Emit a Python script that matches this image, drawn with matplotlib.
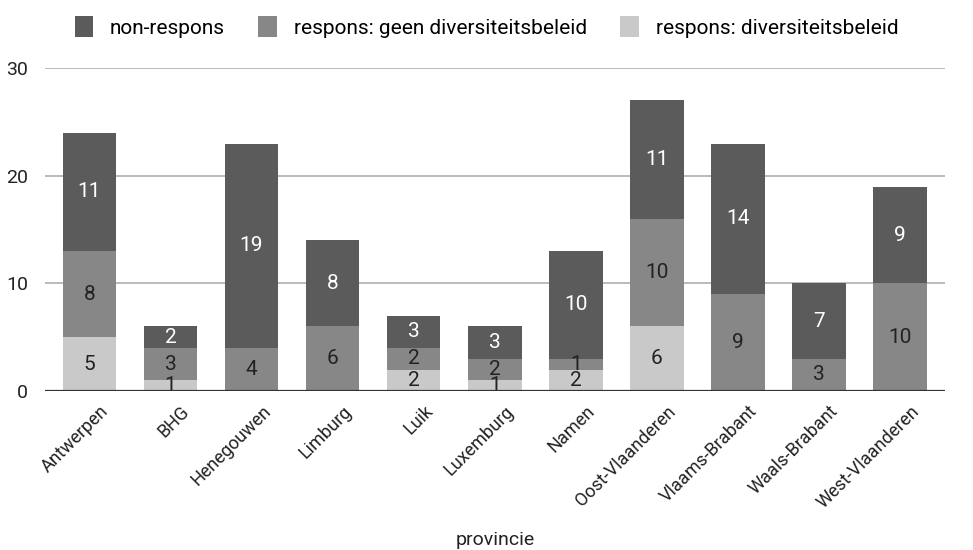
import matplotlib.pyplot as plt
import matplotlib.transforms as mtransforms
import numpy as np

plt.rcParams['font.family'] = ['Roboto', 'DejaVu Sans']

provincies = ['Antwerpen', 'BHG', 'Henegouwen', 'Limburg', 'Luik', 'Luxemburg',
              'Namen', 'Oost-Vlaanderen', 'Vlaams-Brabant', 'Waals-Brabant',
              'West-Vlaanderen']
diversiteitsbeleid = [5, 1, 0, 0, 2, 1, 2, 6, 0, 0, 0]
geen_beleid = [8, 3, 4, 6, 2, 2, 1, 10, 9, 3, 10]
non_respons = [11, 2, 19, 8, 3, 3, 10, 11, 14, 7, 9]

c_light = '#c9c9c9'
c_mid = '#878787'
c_dark = '#5b5b5b'

fig = plt.figure(figsize=(9.73, 5.5), dpi=100)
ax = fig.add_axes([0.046, 0.289, 0.925, 0.587])

x = np.arange(len(provincies))
w = 0.66
b1 = np.array(diversiteitsbeleid)
b2 = b1 + np.array(geen_beleid)

r1 = ax.bar(x, diversiteitsbeleid, w, color=c_light, label='respons: diversiteitsbeleid', zorder=2)
r2 = ax.bar(x, geen_beleid, w, bottom=b1, color=c_mid, label='respons: geen diversiteitsbeleid', zorder=2)
r3 = ax.bar(x, non_respons, w, bottom=b2, color=c_dark, label='non-respons', zorder=2)

# value labels in the middle of each segment
for rects, vals, tc in [(r1, diversiteitsbeleid, '#222222'),
                        (r2, geen_beleid, '#222222'),
                        (r3, non_respons, 'white')]:
    for rect, v in zip(rects, vals):
        if v == 0:
            continue
        ax.text(rect.get_x() + rect.get_width() / 2,
                rect.get_y() + rect.get_height() / 2, str(v),
                ha='center', va='center', color=tc, fontsize=15, zorder=3)

ax.set_ylim(0, 30)
ax.set_xlim(-0.55, len(provincies) - 0.45)
ax.set_yticks([0, 10, 20, 30])
ax.yaxis.grid(True, color='#a8a8a8', linewidth=1.1, zorder=0)
ax.axhline(0, color='#333333', linewidth=1.6, zorder=4)
for s in ax.spines.values():
    s.set_visible(False)
ax.tick_params(axis='both', length=0, colors='#222222')
ax.tick_params(axis='y', pad=12, labelsize=14)
ax.set_xticks(x)
ax.set_xticklabels(provincies, rotation=45, ha='right', rotation_mode='anchor', fontsize=13)
ax.tick_params(axis='x', pad=8)
# nudge the rotated labels a little to the right
shift = mtransforms.ScaledTranslation(10 / 100, 0, fig.dpi_scale_trans)
for lbl in ax.get_xticklabels():
    lbl.set_transform(lbl.get_transform() + shift)
ax.set_xlabel('provincie', fontsize=14, color='#222222', labelpad=14)

handles = [r3, r2, r1]
fig.legend(handles, [h.get_label() for h in handles], loc='upper center',
           bbox_to_anchor=(0.5, 1.005), ncol=3, frameon=False, fontsize=15,
           handlelength=0.9, handleheight=1.2, columnspacing=1.6, handletextpad=0.8)

fig.savefig('out.png', dpi=100, facecolor='white')
